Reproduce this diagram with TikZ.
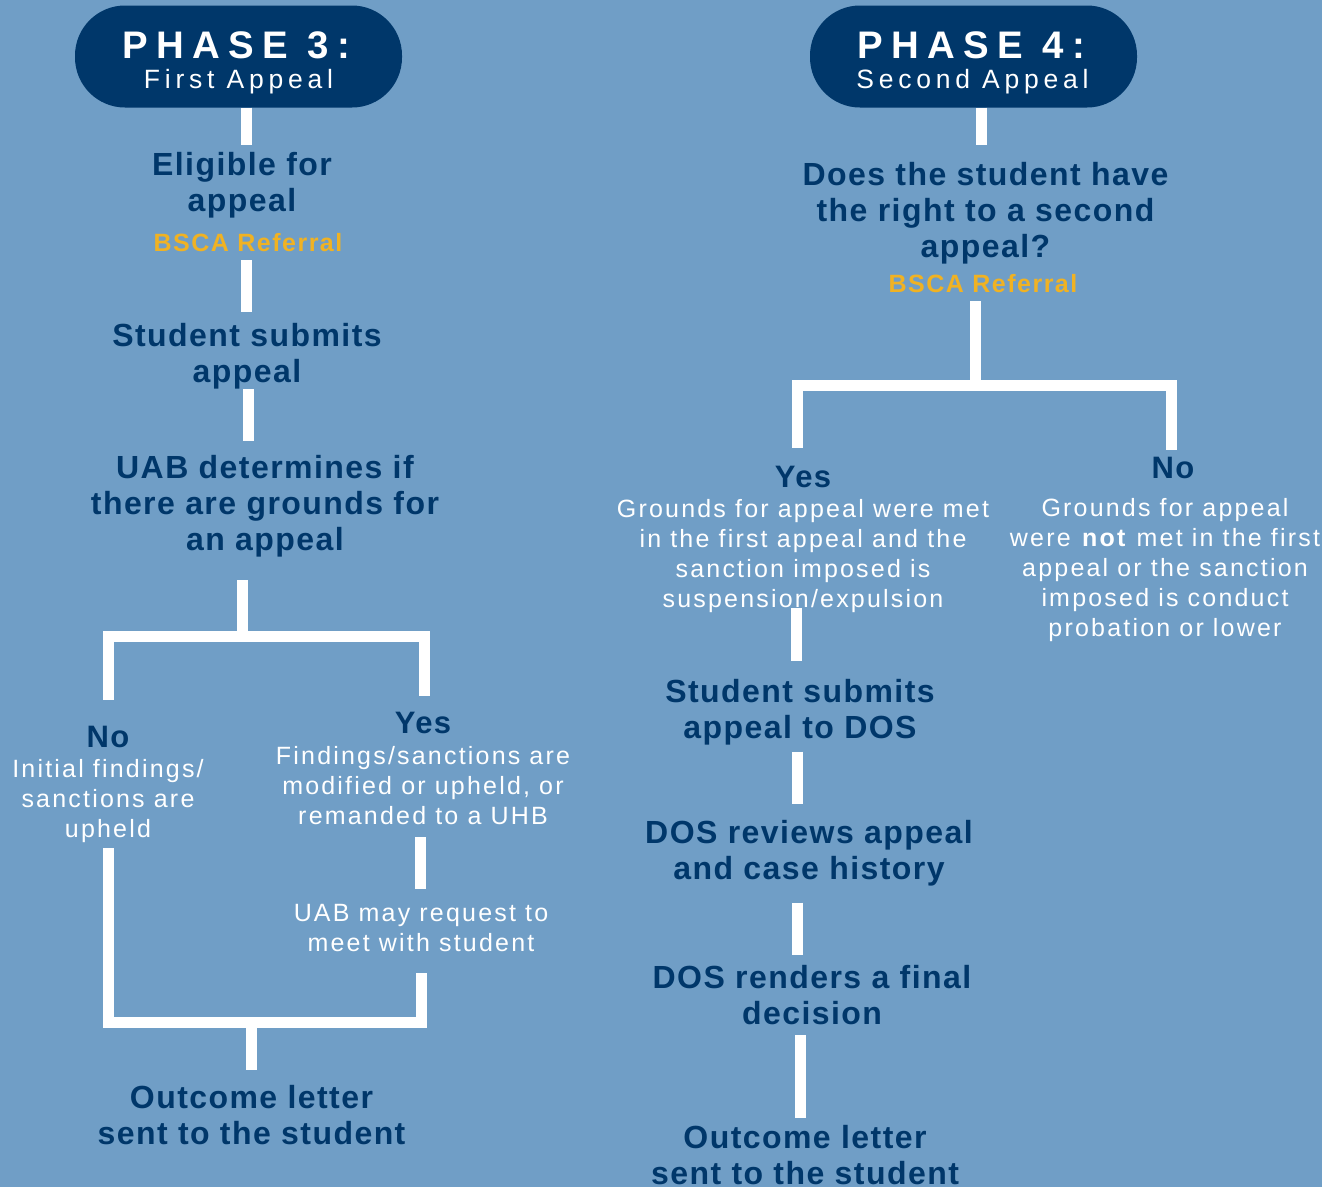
\documentclass[tikz,border=0pt]{standalone}
\usepackage{fontspec}
\setmainfont{Liberation Sans}
\newfontfamily\hfont[LetterSpace=4.5]{Liberation Sans}
\newfontfamily\wfont[LetterSpace=8.8]{Liberation Sans}
\newfontfamily\pfont[LetterSpace=22]{Liberation Sans}
\newfontfamily\sfont[LetterSpace=18]{Liberation Sans}
\newfontfamily\yfont[LetterSpace=6]{Liberation Sans}
\definecolor{bgblue}{RGB}{112,158,198}
\definecolor{navy}{RGB}{0,55,106}
\definecolor{gold}{RGB}{240,178,35}
\tikzset{
  pill/.style={draw=none,fill=navy,minimum width=327pt,minimum height=102pt,rounded corners=50pt,inner sep=0pt},
  phasetitle/.style={anchor=base,inner sep=0pt,text=white,font=\pfont\bfseries\fontsize{38.4}{40}\selectfont},
  phasesub/.style={anchor=base,inner sep=0pt,text=white,font=\sfont\fontsize{26.5}{30}\selectfont},
  bt/.style={inner sep=0pt,align=center,text=navy,font=\hfont\bfseries\fontsize{32}{36}\selectfont},
  yn/.style={inner sep=0pt,align=center,text=navy,font=\hfont\bfseries\fontsize{31}{33}\selectfont},
  wt/.style={inner sep=0pt,align=center,text=white,font=\wfont\fontsize{25}{30}\selectfont},
  yt/.style={inner sep=0pt,align=center,text=gold,font=\yfont\bfseries\fontsize{25}{30}\selectfont},
  bar/.style={draw=white,line width=11pt,line cap=butt,line join=miter}
}
\begin{document}
\begin{tikzpicture}[x=1pt,y=-1pt]
\fill[bgblue] (0,0) rectangle (1322,1187);
\useasboundingbox (0,0) rectangle (1322,1187);

% ---------- Phase 3 ----------
\node[pill] (p3) at (238.5,56.5) {};
\node[phasetitle] (p3a) at (236,58) {PHASE 3:};
\node[phasesub] (p3b) at (238.5,88) {First Appeal};

\node[bt] (elig) at (242,185.8) {\strut Eligible for\\\strut appeal};
\node[yt] (bsca1) at (248,245) {\strut BSCA Referral};
\node[bt] (sub1) at (247,356.8) {\strut Student submits\\\strut appeal};
\node[bt] (uab) at (265,506.8) {\strut UAB determines if\\\strut there are grounds for\\\strut an appeal};

\node[yn] (no1) at (108,740.4) {\strut No};
\node[wt] (no1t) at (108,801) {\strut Initial findings/\\\strut sanctions are\\\strut upheld};
\node[yn] (yes1) at (423,726.4) {\strut Yes};
\node[wt] (yes1t) at (423,788) {\strut Findings/sanctions are\\\strut modified or upheld, or\\\strut remanded to a UHB};
\node[wt] (meet) at (421,930) {\strut UAB may request to\\\strut meet with student};
\node[bt] (out1) at (251.5,1119.3) {\strut Outcome letter\\\strut sent to the student};

\coordinate (j1) at (242,636.5);
\coordinate (j2) at (251.5,1022);

\draw[bar] ([xshift=7.5pt]p3.south) -- ([xshift=4pt,yshift=5pt]elig.north);
\draw[bar] ([xshift=-2pt]bsca1.south) -- ([xshift=-1pt,yshift=9pt]sub1.north);
\draw[bar] ([xshift=1pt,yshift=4pt]sub1.south) -- ([xshift=-17pt,yshift=12pt]uab.north);
\draw[bar] ([xshift=-23pt,yshift=-19pt]uab.south) -- (j1);
\draw[bar] ([yshift=24pt]no1.north) |- (j1) -| ([xshift=1pt,yshift=14pt]yes1.north);
\draw[bar] ([xshift=-3pt,yshift=-4pt]yes1t.south) -- ([xshift=-1pt,yshift=11pt]meet.north);
\draw[bar] ([yshift=-2pt]no1t.south) |- (j2) -| ([yshift=-13pt]meet.south);
\draw[bar] (j2) -- ([yshift=13pt]out1.north);

% ---------- Phase 4 ----------
\node[pill] (p4) at (973.5,56.5) {};
\node[phasetitle] (p4a) at (971,58) {PHASE 4:};
\node[phasesub] (p4b) at (972.5,88) {Second Appeal};

\node[bt] (q) at (985.5,213.8) {\strut Does the student have\\\strut the right to a second\\\strut appeal?};
\node[yt] (bsca2) at (983,286) {\strut BSCA Referral};

\node[yn] (yes2) at (803,480.4) {\strut Yes};
\node[wt] (yes2t) at (803,556) {\strut Grounds for appeal were met\\\strut in the first appeal and the\\\strut sanction imposed is\\\strut suspension/expulsion};
\node[yn] (no2) at (1173,471.4) {\strut No};
\node[wt] (no2t) at (1165,570) {\strut Grounds for appeal\\\strut were \textbf{not} met in the first\\\strut appeal or the sanction\\\strut imposed is conduct\\\strut probation or lower};

\node[bt] (sub2) at (800,713.3) {\strut Student submits\\\strut appeal to DOS};
\node[bt] (dosr) at (809,854.3) {\strut DOS reviews appeal\\\strut and case history};
\node[bt] (dosf) at (812,998.8) {\strut DOS renders a final\\\strut decision};
\node[bt] (out2) at (805,1158.8) {\strut Outcome letter\\\strut sent to the student};

\coordinate (j3) at (975,385.5);

\draw[bar] ([xshift=7.5pt]p4.south) -- ([xshift=-4.5pt,yshift=15pt]q.north);
\draw[bar] ([xshift=-8pt]bsca2.south) -- (j3);
\draw[bar] ([xshift=-6pt,yshift=16pt]yes2.north) |- (j3) -| ([xshift=-2pt,yshift=5pt]no2.north);
\draw[bar] ([xshift=-7pt,yshift=8pt]yes2t.south) -- ([xshift=-4pt,yshift=16pt]sub2.north);
\draw[bar] ([xshift=-3pt,yshift=-2pt]sub2.south) -- ([xshift=-12pt,yshift=14pt]dosr.north);
\draw[bar] ([xshift=-11.5pt,yshift=-12pt]dosr.south) -- ([xshift=-14.5pt,yshift=8pt]dosf.north);
\draw[bar] ([xshift=-11.5pt]dosf.south) -- ([xshift=-4.5pt,yshift=5pt]out2.north);
\end{tikzpicture}
\end{document}
